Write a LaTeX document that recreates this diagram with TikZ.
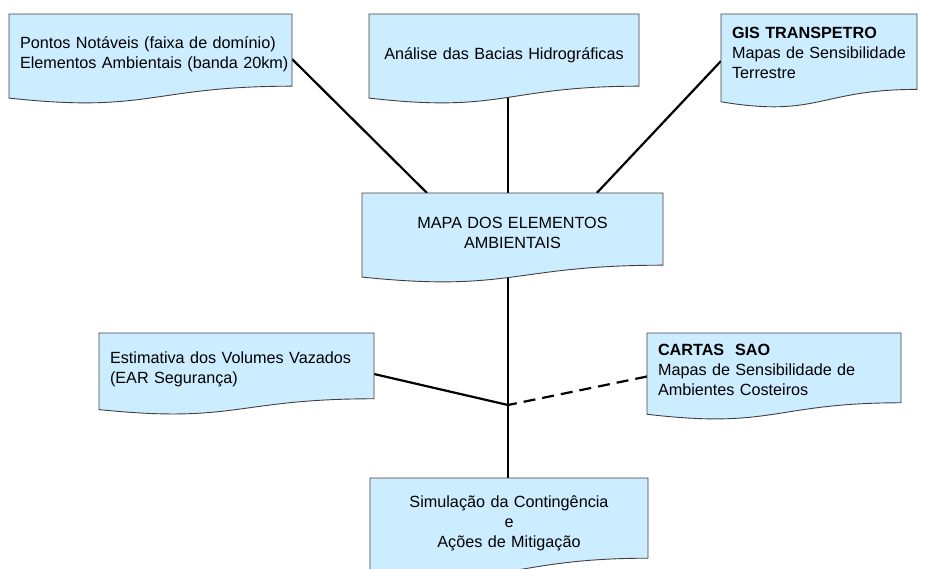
\documentclass[tikz,border=0pt]{standalone}
\usepackage{fontspec}
\setmainfont{Liberation Sans}
\usepackage{tikz}
\usetikzlibrary{calc, backgrounds}
\definecolor{docblue}{HTML}{CCECFF}
\definecolor{docline}{HTML}{404040}

\tikzset{
  doc/.style={rectangle, inner xsep=11pt, inner ysep=0pt, outer sep=0pt,
    text height=12pt, font={\fontsize{16.2}{20}\selectfont}, anchor=north west},
  docshape/.style={fill=docblue, draw=docline, line width=0.9pt},
  link/.style={line width=2.2pt, black}
}

\begin{document}
\begin{tikzpicture}[x=1pt, y=-1pt]
        \useasboundingbox (0, 0) rectangle (928, 568);
        % boxes
        \node[doc, text width=261pt, minimum height=90pt, text depth=34pt, align=left] (pontos) at (9, 14)
            {Pontos Notáveis (faixa de domínio)\\\mbox{Elementos Ambientais (banda 20km)}};
        \node[doc, text width=248pt, minimum height=90pt, text depth=12pt, align=center] (analise) at (369, 14)
            {Análise das Bacias Hidrográficas};
        \node[doc, text width=174pt, minimum height=94pt, text depth=58pt, align=left] (gis) at (721, 14)
            {\textbf{GIS TRANSPETRO}\\Mapas de Sensibilidade\\Terrestre};
        \node[doc, text width=279pt, minimum height=90pt, text depth=32pt, align=center] (mapa) at (362, 193)
            {MAPA DOS ELEMENTOS\\AMBIENTAIS};
        \node[doc, text width=253pt, minimum height=82pt, text depth=34pt, align=left] (estimativa) at (99, 333)
            {Estimativa dos Volumes Vazados\\(EAR Segurança)};
        \node[doc, text width=232pt, minimum height=87pt, text depth=55pt, align=left] (cartas) at (647, 333)
            {\textbf{CARTAS\ \ SAO}\\Mapas de Sensibilidade de\\Ambientes Costeiros};
        \node[doc, text width=256pt, minimum height=100pt, text depth=54pt, align=center] (simulacao) at (370, 478)
            {Simulação da Contingência\\e\\Ações de Mitigação};
        \coordinate (junction) at (508, 405);

        \begin{pgfonlayer}{background}
        % connectors
        \draw[link] (pontos.east) -- ($(mapa.north west)!0.216!(mapa.north east)$);
        \draw[link] (gis.west) -- ($(mapa.north west)!0.78!(mapa.north east)$);
        \draw[link] (analise.center -| junction) -- (mapa.center -| junction);
        \draw[link] (mapa.center -| junction) -- (simulacao.center -| junction);
        \draw[link] (estimativa.east) -- (junction);
        \draw[link, dash pattern=on 12pt off 7pt] (cartas.west) -- (junction);
        % document outlines
        \foreach \n in {pontos, analise, gis, mapa, estimativa, cartas, simulacao}
            \draw[docshape] (\n.north west) -- (\n.north east) -- ($(\n.north east)!0.802!(\n.south east)$)
                .. controls ($(\n.north)!0.802!(\n.south)$) and ($(\n.north)!1.1075!(\n.south)$)
                .. ($(\n.north west)!0.934!(\n.south west)$) -- cycle;
        \end{pgfonlayer}
    \end{tikzpicture}
\end{document}
